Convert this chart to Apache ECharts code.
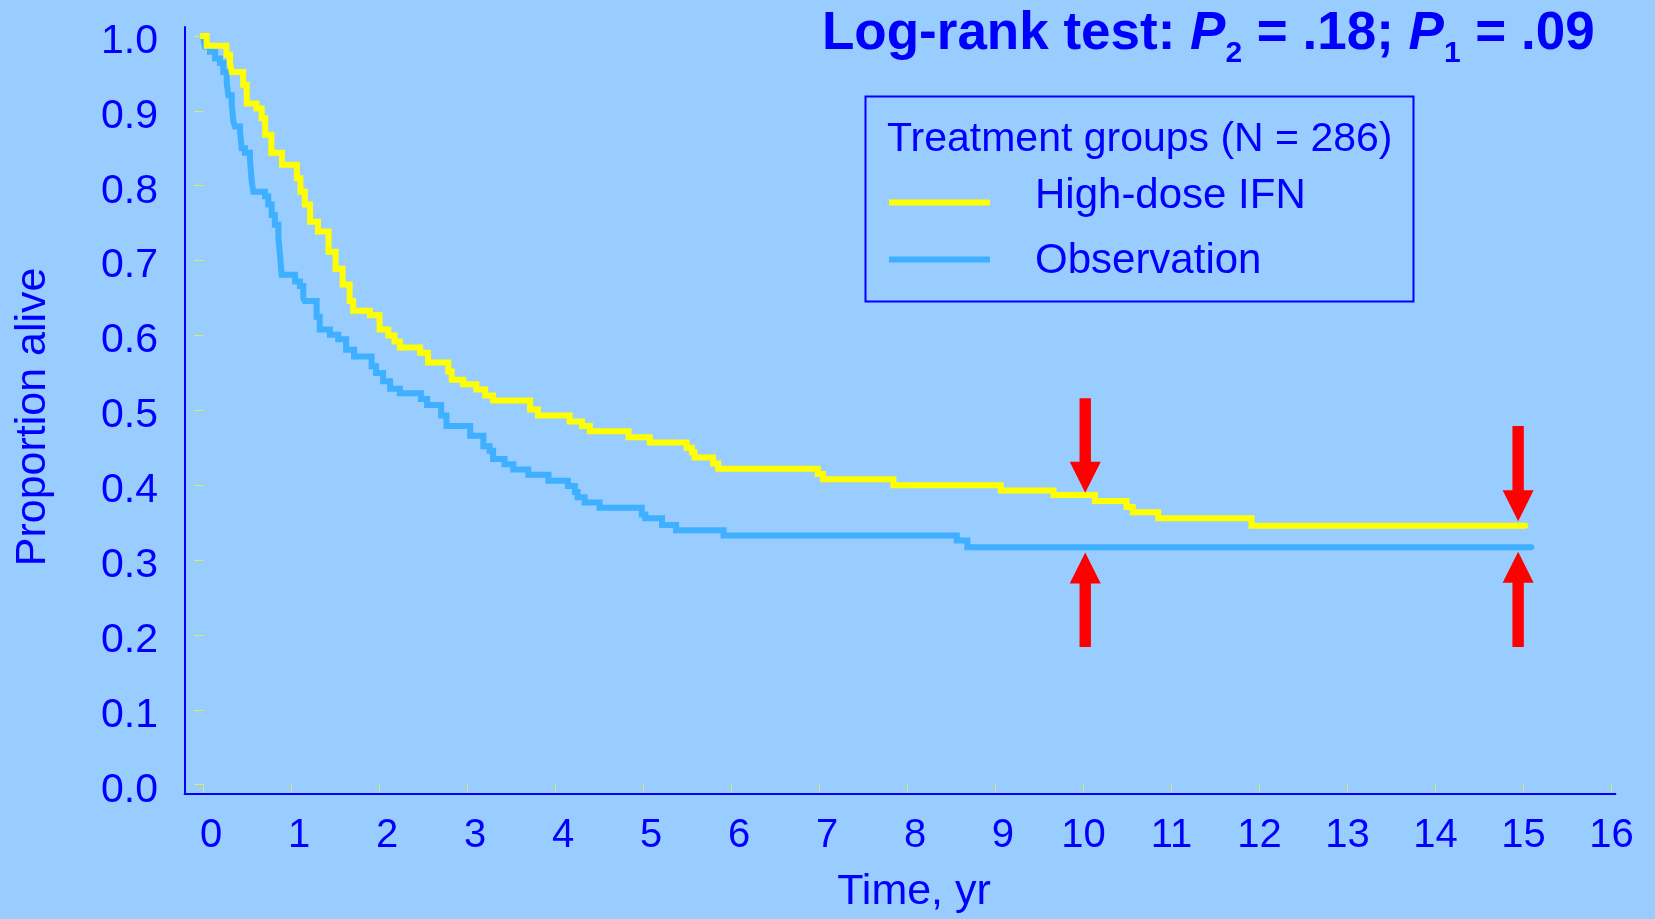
<!DOCTYPE html>
<html>
<head>
<meta charset="utf-8">
<script src="https://cdn.jsdelivr.net/npm/echarts@6/dist/echarts.min.js"></script>
<style>
  html, body { margin: 0; padding: 0; background: #99CCFF; }
  #chart { width: 1655px; height: 919px; }
</style>
</head>
<body>
<div id="chart"></div>
<script>
// Kaplan-Meier curves (time in years, proportion alive)
var seriesNames = ['High-dose IFN', 'Observation'];
var seriesColors = ['#FFFF00', '#3FAFFF'];

var highDoseTime = [-0.09, 0.035, 0.26, 0.30, 0.32, 0.45, 0.49, 0.60, 0.66, 0.70, 0.77, 0.89,
  1.06, 1.10, 1.15, 1.21, 1.30, 1.42, 1.50, 1.58, 1.66, 1.70, 1.89, 2.00, 2.10, 2.17, 2.23,
  2.46, 2.55, 2.78, 2.82, 2.95, 3.10, 3.20, 3.29, 3.71, 3.80, 4.16, 4.30, 4.39, 4.83, 5.07,
  5.49, 5.55, 5.58, 5.79, 5.85, 6.98, 7.04, 7.84, 9.06, 9.66, 10.13, 10.49, 10.56, 10.85,
  11.91, 15.02];
var highDoseSurv = [1.0, 0.987, 0.975, 0.963, 0.952, 0.935, 0.910, 0.903, 0.890, 0.868, 0.844, 0.828,
  0.810, 0.792, 0.775, 0.752, 0.739, 0.712, 0.689, 0.668, 0.646, 0.633, 0.627, 0.608, 0.600, 0.592, 0.584,
  0.577, 0.564, 0.552, 0.541, 0.535, 0.528, 0.520, 0.513, 0.501, 0.493, 0.485, 0.479, 0.472, 0.464, 0.457,
  0.450, 0.444, 0.437, 0.429, 0.422, 0.415, 0.408, 0.400, 0.393, 0.387, 0.379, 0.371, 0.364, 0.356,
  0.346, 0.346];

var obsTime = [-0.05, 0.00, 0.016, 0.073, 0.13, 0.186, 0.224, 0.263, 0.281, 0.32, 0.338, 0.357,
  0.414, 0.433, 0.47, 0.527, 0.547, 0.565, 0.698, 0.735, 0.774, 0.81, 0.85, 0.868, 0.887,
  1.04, 1.095, 1.133, 1.15, 1.285, 1.32, 1.436, 1.53, 1.62, 1.71, 1.91, 1.96, 2.04, 2.12,
  2.23, 2.47, 2.54, 2.70, 2.76, 3.03, 3.18, 3.25, 3.29, 3.42, 3.52, 3.69, 3.92, 4.14, 4.22,
  4.25, 4.33, 4.50, 4.98, 5.02, 5.21, 5.37, 5.91, 8.56, 8.68, 15.09];
var obsSurv = [1.0, 0.995, 0.986, 0.979, 0.970, 0.964, 0.952, 0.937, 0.921, 0.908, 0.886, 0.879,
  0.872, 0.850, 0.844, 0.835, 0.806, 0.792, 0.786, 0.775, 0.761, 0.748, 0.730, 0.708, 0.681,
  0.672, 0.666, 0.650, 0.646, 0.625, 0.608, 0.601, 0.595, 0.581, 0.572, 0.559, 0.550, 0.539, 0.529,
  0.523, 0.515, 0.507, 0.493, 0.479, 0.466, 0.452, 0.446, 0.435, 0.428, 0.421, 0.414, 0.406, 0.399, 0.391,
  0.384, 0.377, 0.370, 0.361, 0.356, 0.347, 0.340, 0.333, 0.326, 0.317, 0.317];

// red arrows: [time, from proportion, to proportion (tip)]
var arrows = [
  [10.02, 0.516, 0.390],
  [10.02, 0.184, 0.310],
  [14.94, 0.479, 0.352],
  [14.94, 0.184, 0.311]
];

var legendTitle = 'Treatment groups (N = 286)';
var xName = 'Time, yr';
var yName = 'Proportion alive';

var BLUE = '#0000FF';
var TICK = '#DDEE55';
var SANS = '"Liberation Sans", Arial, Helvetica, sans-serif';

function pairs(t, s) {
  var out = [];
  for (var i = 0; i < t.length; i++) {
    out.push([t[i], s[i]]);
  }
  return out;
}

function renderArrow(params, api) {
  var a = api.coord([api.value(0), api.value(1)]);
  var b = api.coord([api.value(0), api.value(2)]);
  var dir = b[1] > a[1] ? 1 : -1;
  var s = 5.7, w = 15.5, h = 31;
  var hy = b[1] - dir * h;
  var x = a[0];
  return {
    type: 'polygon',
    shape: { points: [[x - s, a[1]], [x + s, a[1]], [x + s, hy], [x + w, hy], [x, b[1]], [x - w, hy], [x - s, hy]] },
    style: { fill: '#FF0000' }
  };
}

var mychart = echarts.init(document.getElementById('chart'));

var option = {
  backgroundColor: '#99CCFF',
  animation: false,
  title: {
    text: '{b|Log-rank test: }{i|P}{s|2}{b| = .18; }{i|P}{s|1}{b| = .09}',
    left: 822,
    top: 8,
    padding: 0,
    textStyle: {
      rich: {
        b: { fontFamily: SANS, fontWeight: 'bold', fontSize: 53, color: BLUE, verticalAlign: 'top' },
        i: { fontFamily: SANS, fontWeight: 'bold', fontStyle: 'italic', fontSize: 53, color: BLUE, verticalAlign: 'top' },
        s: { fontFamily: SANS, fontWeight: 'bold', fontSize: 30, color: BLUE, verticalAlign: 'top', padding: [31, 0, 0, 0] }
      }
    }
  },
  legend: {
    data: seriesNames,
    orient: 'vertical',
    left: 889,
    top: 175,
    padding: 0,
    itemGap: 2,
    itemWidth: 101,
    itemHeight: 6,
    icon: 'rect',
    formatter: function (name) {
      return name === seriesNames[0] ? '{a|' + name + '}' : '{b|' + name + '}';
    },
    textStyle: {
      rich: {
        a: { fontFamily: SANS, fontSize: 42, color: BLUE, lineHeight: 46, padding: [0, 0, 13, 40] },
        b: { fontFamily: SANS, fontSize: 42, color: BLUE, lineHeight: 46, padding: [8, 0, 5, 40] }
      }
    }
  },
  graphic: [
    { type: 'rect', left: 863, top: 94, shape: { width: 548, height: 205 }, style: { fill: 'none', stroke: BLUE, lineWidth: 2 } },
    { type: 'text', x: 887, y: 140, style: { text: legendTitle, fill: BLUE, font: '41px ' + SANS, verticalAlign: 'middle', align: 'left' } }
  ],
  grid: [
    { left: 184.6, right: 39.6, top: 27, bottom: 125.7 },
    { left: 203.6, right: 43.6, top: 36, bottom: 133 }
  ],
  xAxis: [
    {
      gridIndex: 0, type: 'value', min: 0, max: 1,
      axisLine: { show: true, lineStyle: { color: BLUE, width: 2 } },
      axisTick: { show: false }, axisLabel: { show: false }, splitLine: { show: false }
    },
    {
      gridIndex: 1, type: 'value', min: 0, max: 16, interval: 1, offset: 11.3,
      axisLine: { show: false },
      axisTick: { show: true, length: 7.4, lineStyle: { color: TICK, width: 1 } },
      splitLine: { show: false },
      axisLabel: {
        margin: 20,
        color: BLUE,
        fontFamily: SANS,
        fontSize: 40,
        formatter: function (v) { return v < 10 ? '{s|' + v + '}' : '{d|' + v + '}'; },
        rich: {
          s: { fontFamily: SANS, fontSize: 40, color: BLUE, padding: [0, 0, 0, 15] },
          d: { fontFamily: SANS, fontSize: 40, color: BLUE }
        }
      },
      name: xName,
      nameLocation: 'middle',
      nameGap: 75,
      nameTextStyle: { color: BLUE, fontFamily: SANS, fontSize: 43, padding: [0, 0, 0, 13] }
    }
  ],
  yAxis: [
    {
      gridIndex: 0, type: 'value', min: 0, max: 1,
      axisLine: { show: true, lineStyle: { color: BLUE, width: 2 } },
      axisTick: { show: false }, axisLabel: { show: false }, splitLine: { show: false }
    },
    {
      gridIndex: 1, type: 'value', min: 0, max: 1, interval: 0.1, offset: 19,
      axisLine: { show: false },
      axisTick: { show: true, length: 9.6, lineStyle: { color: TICK, width: 1 } },
      splitLine: { show: false },
      axisLabel: {
        margin: 26.6,
        color: BLUE,
        fontFamily: SANS,
        fontSize: 41,
        formatter: function (v) { return '{v|' + v.toFixed(1) + '}'; },
        rich: {
          v: { fontFamily: SANS, fontSize: 41, color: BLUE, padding: [11, 0, 0, 0] }
        }
      },
      name: yName,
      nameLocation: 'middle',
      nameGap: 130,
      nameTextStyle: { color: BLUE, fontFamily: SANS, fontSize: 43, padding: [0, 13, 0, 0] }
    }
  ],
  series: [
    {
      name: seriesNames[1],
      type: 'line',
      xAxisIndex: 1, yAxisIndex: 1,
      step: 'end',
      showSymbol: false,
      clip: false,
      color: seriesColors[1],
      lineStyle: { color: seriesColors[1], width: 6, cap: 'round', join: 'miter' },
      data: pairs(obsTime, obsSurv)
    },
    {
      name: seriesNames[0],
      type: 'line',
      xAxisIndex: 1, yAxisIndex: 1,
      step: 'end',
      showSymbol: false,
      clip: false,
      color: seriesColors[0],
      lineStyle: { color: seriesColors[0], width: 6, cap: 'round', join: 'miter' },
      data: pairs(highDoseTime, highDoseSurv)
    },
    {
      type: 'custom',
      xAxisIndex: 1, yAxisIndex: 1,
      clip: false,
      z: 5,
      silent: true,
      encode: { x: 0, y: [1, 2] },
      renderItem: renderArrow,
      data: arrows
    }
  ]
};

mychart.setOption(option);
</script>
</body>
</html>
